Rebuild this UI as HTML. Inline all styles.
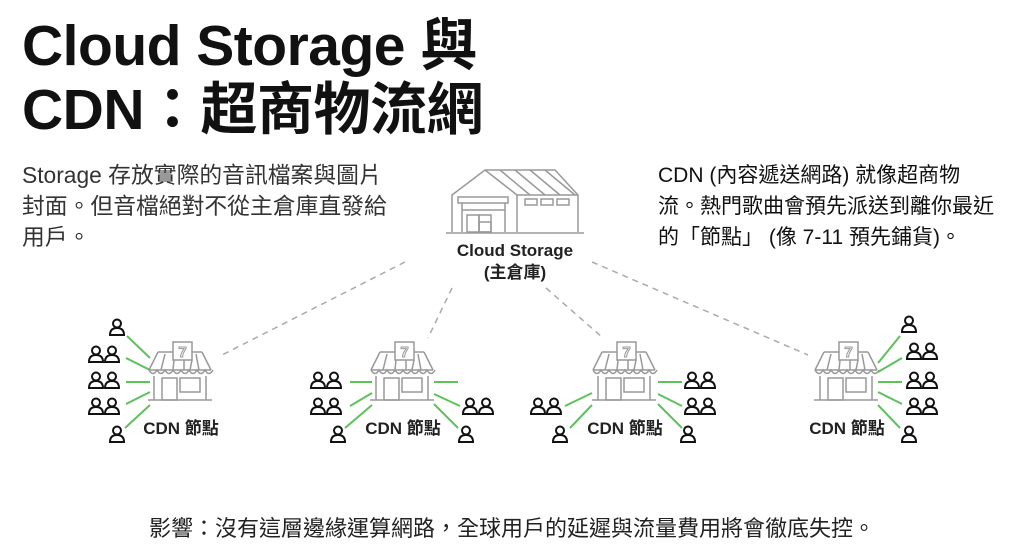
<!DOCTYPE html>
<html><head><meta charset="utf-8"><style>
body{margin:0;width:1024px;height:549px;background:#fff;overflow:hidden;position:relative;font-family:"Liberation Sans","Noto Sans CJK TC",sans-serif;color:#111}
.t{position:absolute;left:22px;font-weight:bold;font-size:57px;line-height:64px;top:14px;letter-spacing:-0.5px}
.p{position:absolute;font-size:22.8px;line-height:31px;color:#333}
.b{position:absolute;top:511px;width:1024px;text-align:center;font-size:22px;color:#222}
</style></head><body>
<div class="t">Cloud Storage 與<br>CDN：超商物流網</div>
<div class="p" style="left:22px;top:160px;width:420px">Storage 存放實際的音訊檔案與圖片<br>封面。但音檔絕對不從主倉庫直發給<br>用戶。</div>
<div class="p" style="left:658px;top:160px;width:366px;color:#111;font-size:21px">CDN (內容遞送網路) 就像超商物<br>流。熱門歌曲會預先派送到離你最近<br>的「節點」 (像 7-11 預先鋪貨)。</div>
<div class="b">影響：沒有這層邊緣運算網路，全球用戶的延遲與流量費用將會徹底失控。</div>
<svg width="1024" height="549" style="position:absolute;left:0;top:0">
<defs>
<g id="st" fill="none" stroke="#999" stroke-width="1.5">
<rect x="25" y="0" width="19" height="18"/><text x="34.5" y="15" font-size="15" font-weight="bold" fill="none" stroke="#999" stroke-width="1" text-anchor="middle" font-family="Liberation Sans">7</text>
<path d="M10 10H25M44 10H54"/>
<path d="M10 10L1 28M54 10L63 28M1 28H63"/>
<path d="M1 28q4 7 8 0q4 7 8 0q4 7 8 0q4 7 8 0q4 7 8 0q4 7 8 0q4 7 8 0q4 7 8 0"/>
<path d="M17 12L13 28M26 18L25 28M44 18L42 28M48 12L51 28M36 18V28"/>
<path d="M6 34V58M58 34V58"/>
<rect x="14" y="36" width="15" height="22"/><rect x="32" y="36" width="20" height="14"/>
<path d="M0 58H64"/>
</g>
<g id="pp" fill="none" stroke="#111" stroke-width="2"><circle cx="0" cy="-4.5" r="4"/><path d="M-7 7Q-7 0 0 0Q7 0 7 7Z"/></g>
<g id="p2"><use href="#pp"/><use href="#pp" x="16"/></g>
</defs>
<g stroke="#aaa" stroke-width="1.5" stroke-dasharray="6 5" fill="none">
<path d="M405 262L222 355M452 288L428 338M546 288L603 338M592 262L808 355"/>
</g>
<g fill="none" stroke="#999" stroke-width="1.5">
<path d="M452 232V195L485 170H555L578 195V232"/>
<path d="M517 195L485 170M517 195H578M517 195V232"/>
<path d="M500 170L530 195M515 170L545 195M530 170L560 195M545 170L575 195"/>
<rect x="458" y="197" width="50" height="6"/><path d="M462 203V232M505 203V232M462 210H505"/>
<rect x="467" y="215" width="12" height="17"/><rect x="479" y="215" width="12" height="17"/><rect x="479" y="222" width="12" height="10"/>
<rect x="525" y="199" width="12" height="6"/><rect x="541" y="199" width="12" height="6"/><rect x="557" y="199" width="12" height="6"/>
<path d="M446 233H584"/>
</g>
<text x="515" y="256" font-size="17" font-weight="bold" text-anchor="middle" fill="#222">Cloud Storage</text>
<text x="515" y="278" font-size="17" font-weight="bold" text-anchor="middle" fill="#222">(主倉庫)</text>
<use href="#st" x="148" y="342"/><use href="#st" x="370" y="342"/><use href="#st" x="592" y="342"/><use href="#st" x="814" y="342"/>
<g font-size="17" font-weight="bold" fill="#222" text-anchor="middle">
<text x="181" y="434">CDN 節點</text><text x="403" y="434">CDN 節點</text><text x="625" y="434">CDN 節點</text><text x="847" y="434">CDN 節點</text></g>
<g stroke="#5cc25c" stroke-width="2">
<path d="M127 336L150 358M126 358L150 370M126 382H150M126 404L150 392M125 428L150 405"/>
<path d="M350 382H372M350 406L372 393M345 428L372 405"/>
<path d="M434 382H458M434 394L460 406M434 404L458 428"/>
<path d="M565 406L592 393M570 428L592 405"/>
<path d="M658 382H682M658 394L682 406M658 404L682 428"/>
<path d="M878 363L900 336M878 372L902 358M878 382H902M878 392L902 404M878 405L900 428"/>
</g>
<use href="#pp" x="117" y="328"/><use href="#p2" x="96" y="355"/><use href="#p2" x="96" y="381"/><use href="#p2" x="96" y="407"/><use href="#pp" x="117" y="435"/>
<use href="#p2" x="318" y="381"/><use href="#p2" x="318" y="407"/><use href="#pp" x="338" y="435"/>
<use href="#p2" x="470" y="407"/><use href="#pp" x="466" y="435"/>
<use href="#p2" x="538" y="407"/><use href="#pp" x="560" y="435"/>
<use href="#p2" x="692" y="381"/><use href="#p2" x="692" y="407"/><use href="#pp" x="688" y="435"/>
<use href="#pp" x="909" y="325"/><use href="#p2" x="914" y="352"/><use href="#p2" x="914" y="381"/><use href="#p2" x="914" y="407"/><use href="#pp" x="909" y="435"/>
</svg>
</body></html>
